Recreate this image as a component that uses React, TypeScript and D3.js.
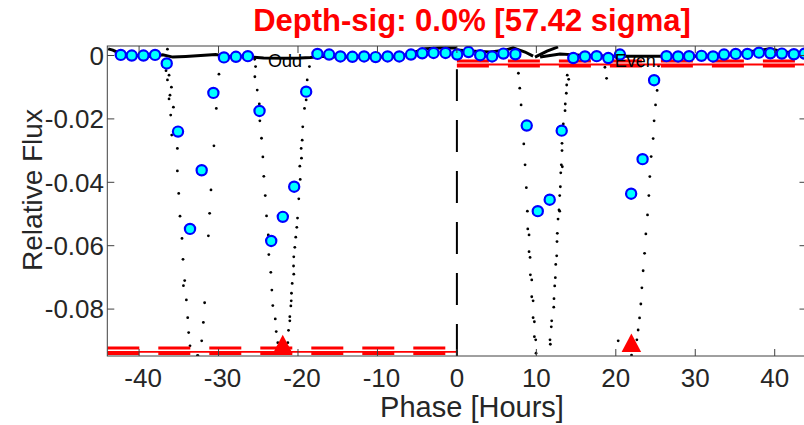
import React from "react";
import * as d3 from "d3";

// ---- Data (hours, relative flux) ----
const xTicks = [-40, -30, -20, -10, 0, 10, 20, 30, 40];
const yTicks = [0, -0.02, -0.04, -0.06, -0.08];
const yTickLabels = ["0", "-0.02", "-0.04", "-0.06", "-0.08"];

// binned points (blue circles)
const binH = [
  -42.3, -40.92, -39.45, -37.99, -36.52, -35.1, -33.59, -32.12, -30.65, -29.32,
  -27.81, -26.31, -24.84, -23.37, -21.91, -20.48, -18.97, -17.55, -16.08, -14.66,
  -13.15, -11.68, -10.23, -8.72, -7.25, -5.78, -4.36, -2.94, -1.43, 0.04,
  1.46, 2.93, 4.43, 5.85, 7.36, 8.79, 10.18, 11.68, 13.19, 14.65,
  16.12, 17.59, 19.05, 20.52, 21.93, 23.37, 24.82, 26.38, 27.84, 29.22,
  30.78, 32.24, 33.62, 35.09, 36.56, 38.02, 39.45, 40.9, 42.41, 43.76,
];
const binF = [
  0.0002, 0.0, 0.0, 0.0002, -0.0025, -0.024, -0.0547, -0.0362, -0.0118, -0.0006,
  -0.0004, -0.0002, -0.0175, -0.0585, -0.0509, -0.0414, -0.0114, 0.0005, 0.0003, -0.0003,
  -0.0004, -0.0003, -0.0005, -0.0003, -0.0003, 0.0003, 0.0007, 0.0008, 0.0008, 0.0003,
  0.0011, 0.0001, -0.0003, 0.0006, 0.0004, -0.0221, -0.0491, -0.0455, -0.0237, -0.0008,
  -0.0003, -0.0002, -0.0008, 0.0003, -0.0436, -0.0327, -0.0078, -0.0002, -0.0003, -0.0002,
  -0.0001, -0.0003, 0.0003, 0.0005, 0.0005, 0.0009, 0.0007, 0.0006, 0.0004, 0.0006,
];

// raw in-transit samples (black dots)
const dotsH = [
  // odd, first dip
  -36.43, -36.93, -36.61, -36.23, -36.43, -35.93, -36.11, -36.23, -35.68, -36.02, -35.89, -35.18,
  -35.18, -35.01, -34.85, -34.6, -34.47, -34.26, -34.42, -34.05, -33.88, -33.76, -33.59, -32.66,
  -29.95, -30.28, -30.58, -30.95, -31.12, -31.28, -31.75, -31.91, -32.12, -32.59,
  // odd, second dip
  -25.46, -25.34, -25.43, -25.13, -24.87, -24.8, -24.59, -24.42, -24.3, -24.12, -23.96, -23.74,
  -23.67, -23.42, -23.29, -23.17, -22.86, -22.74, -22.54,
  -18.56, -18.84, -18.97, -19.18, -19.4, -19.47, -19.6, -19.56, -19.77, -19.72, -19.9, -20.06,
  -20.15, -20.28, -20.4, -20.53, -20.56, -20.53, -20.73, -20.82, -20.85, -20.9, -21.03, -21.03,
  -21.19, -21.28, -21.48,
  // even, first dip
  7.74, 7.91, 8.08, 8.42, 8.58, 8.74, 8.87, 8.92, 9.08, 9.08, 9.21, 9.25, 9.42, 9.42, 9.59, 9.59,
  9.75, 9.75, 9.92, 9.96,
  13.89, 14.07, 13.82, 13.77, 13.64, 13.61, 13.39, 13.23, 13.23, 13.14, 13.27, 13.07, 13.02, 12.94,
  12.85, 12.94, 12.73, 12.64, 12.6, 12.56, 12.44, 12.39, 12.31, 12.22, 12.19, 11.93, 11.88, 11.72,
  11.76,
  // even, second dip
  25.38, 25.2, 25.0, 24.82, 24.7, 24.45, 24.28, 24.16, 23.99, 23.78, 23.62, 23.44, 23.28, 23.15,
  22.99, 22.81, 22.65, 21.98, 20.3, 18.63, 18.84,
];
const dotsF = [
  0.002, -0.0035, -0.0048, -0.0062, -0.0077, -0.01, -0.0125, -0.0137, -0.0163, -0.0188, -0.0251, -0.0293,
  -0.0364, -0.0435, -0.0507, -0.0577, -0.0643, -0.071, -0.0726, -0.0771, -0.0827, -0.0874, -0.0916, -0.0947,
  -0.0059, -0.0167, -0.0285, -0.0424, -0.0498, -0.0569, -0.078, -0.0842, -0.09, -0.0947,
  -0.0012, -0.0035, -0.0067, -0.0109, -0.0153, -0.0206, -0.0261, -0.032, -0.0381, -0.0442, -0.0506, -0.0566,
  -0.0628, -0.0684, -0.074, -0.0789, -0.0831, -0.0871, -0.0906,
  -0.0035, -0.0077, -0.014, -0.0167, -0.0225, -0.0267, -0.0293, -0.0324, -0.0349, -0.0391, -0.0452, -0.0513,
  -0.0542, -0.0573, -0.0605, -0.0635, -0.0664, -0.069, -0.0719, -0.075, -0.0774, -0.079, -0.0824, -0.0837,
  -0.0867, -0.0906, -0.092,
  -0.0056, -0.0103, -0.0156, -0.0279, -0.0345, -0.0417, -0.0491, -0.0547, -0.0566, -0.0619, -0.0637, -0.0692,
  -0.0708, -0.0761, -0.0774, -0.0827, -0.084, -0.0887, -0.0897, -0.0939,
  -0.0062, -0.0075, -0.0093, -0.0119, -0.0153, -0.0174, -0.0216, -0.0277, -0.03, -0.0345, -0.0351, -0.037,
  -0.0414, -0.0442, -0.0487, -0.0491, -0.0516, -0.0561, -0.0587, -0.0632, -0.0659, -0.0701, -0.0727, -0.0767,
  -0.0794, -0.0837, -0.0856, -0.0897, -0.0911,
  -0.0033, -0.011, -0.0156, -0.0206, -0.0262, -0.0319, -0.0382, -0.0442, -0.0503, -0.0563, -0.0624, -0.0679,
  -0.0733, -0.0784, -0.0828, -0.0866, -0.0897, -0.0945, -0.09, -0.0037, -0.0072,
];

// dense out-of-transit samples (drawn as a thick trace), with segment ids
const bandH = [
  -43.89, -43.3, -42.55, -41.04, -39.53, -38.03, -37.02, -35.76, -34.13, -32.25, -30.36, -29.11,
  -27.23, -25.72, -24.33, -21.57, -19.69, -18.43, -17.18, -14.66, -12.15, -9.64, -7.12, -5.24,
  -3.98, -2.1, 0,
  0, 1.67, 4.18, 6.07, 7.07, 8.58, 9.59,
  9.83, 11.34, 12.73,
  10.47, 12.98, 14.86, 16.74, 19.25, 21.77, 24.28, 26.79, 30.56, 34.33, 37.47, 39.36, 41.24, 43.63, 44,
];
const bandF = [
  0.0021, 0.0017, 0.0008, 0.0002, -0.0002, -0.0002, 0.0002, -0.0005, -0.0003, 0.0, 0.0003, -0.0002,
  -0.0003, -0.0005, -0.0008, -0.0009, -0.0008, -0.0006, -0.0002, -0.0005, -0.0005, -0.0005, -0.0003, 0.0011,
  0.0021, 0.0024, 0.0024,
  0.0017, 0.0014, 0.0011, 0.0017, 0.0024, 0.0011, -0.0002,
  -0.0005, 0.0014, 0.0027,
  -0.0005, 0.0005, 0.0002, 0.0, -0.0002, -0.0002, -0.0002, -0.0002, -0.0002, 0.0002, 0.0014, 0.0021, 0.0011, 0.0008, 0.0008,
];
const bandSeg = [
  0, 0, 0, 0, 0, 0, 0, 0, 0, 0, 0, 0, 0, 0, 0, 0, 0, 0, 0, 0, 0, 0, 0, 0, 0, 0, 0,
  1, 1, 1, 1, 1, 1, 1,
  2, 2, 2,
  3, 3, 3, 3, 3, 3, 3, 3, 3, 3, 3, 3, 3, 3, 3,
];

// depth levels: [upper, mean, lower] for odd and even transits
const oddDepth = [-0.09227, -0.09353, -0.09401];
const evenDepth = [-0.00174, -0.00284, -0.00331];
const triH = [-21.92, 21.96];
const triF = [-0.092, -0.0916];
const markLabels = ["Odd", "Even"];
const markLabelH = [-21.63, 22.44];
const titleText = "Depth-sig: 0.0% [57.42 sigma]";

const W = 804;
const H = 425;
const M = { left: 107.3, right: 806.5, top: 46, bottom: 356 };
const FONT = "'Liberation Sans', Arial, Helvetica, sans-serif";

export default function App() {
  const x = d3.scaleLinear().domain([-44, 44]).range([M.left, M.right]);
  const y = d3.scaleLinear().domain([-0.0948, 0.003]).range([M.bottom, M.top]);

  const segs = d3.groups(
    bandH.map((h, i) => ({ h, f: bandF[i], s: bandSeg[i] })),
    (d) => d.s
  );
  const line = d3
    .line<{ h: number; f: number }>()
    .x((d) => x(d.h))
    .y((d) => y(d.f));

  const tri = d3.symbol().type(d3.symbolTriangle).size(150)();

  const axisColor = "#404040";
  const textColor = "#262626";

  return (
    <svg
      width={W}
      height={H}
      style={{ position: "absolute", left: 0, top: 0, background: "#fff" }}
      fontFamily={FONT}
    >
      <defs>
        <clipPath id="plotclip">
          <rect x={M.left} y={M.top} width={M.right - M.left} height={M.bottom - M.top} />
        </clipPath>
      </defs>
      <rect x={0} y={0} width={W} height={H} fill="#fff" />

      <g clipPath="url(#plotclip)">
        {/* dense trace */}
        {segs.map(([k, pts]) => (
          <path key={k} d={line(pts) || ""} fill="none" stroke="#000" strokeWidth={3} />
        ))}
        {/* raw dots */}
        {dotsH.map((h, i) => (
          <circle key={i} cx={x(h)} cy={y(dotsF[i])} r={1.4} fill="#000" />
        ))}

        {/* odd depth lines */}
        <line x1={x(-44)} x2={x(0)} y1={y(oddDepth[0])} y2={y(oddDepth[0])} stroke="#ff0000" strokeWidth={3} strokeDasharray="32 19" />
        <line x1={x(-44)} x2={x(0)} y1={y(oddDepth[2])} y2={y(oddDepth[2])} stroke="#ff0000" strokeWidth={3} strokeDasharray="32 19" />
        <line x1={x(-44)} x2={x(0)} y1={y(oddDepth[1])} y2={y(oddDepth[1])} stroke="#ff0000" strokeWidth={1.8} />
        {/* even depth lines */}
        <line x1={x(0)} x2={x(44)} y1={y(evenDepth[0])} y2={y(evenDepth[0])} stroke="#ff0000" strokeWidth={3} strokeDasharray="32 19" />
        <line x1={x(0)} x2={x(44)} y1={y(evenDepth[2])} y2={y(evenDepth[2])} stroke="#ff0000" strokeWidth={3} strokeDasharray="32 19" />
        <line x1={x(0)} x2={x(44)} y1={y(evenDepth[1])} y2={y(evenDepth[1])} stroke="#ff0000" strokeWidth={1.8} />

        {/* divider between odd and even */}
        <line x1={x(0)} x2={x(0)} y1={M.bottom} y2={y(-0.0043)} stroke="#000" strokeWidth={2} strokeDasharray="32 19" />

        {/* binned circles */}
        {binH.map((h, i) => (
          <circle key={i} cx={x(h)} cy={y(binF[i])} r={5.1} fill="#00ffff" stroke="#0000ff" strokeWidth={2.2} />
        ))}

        {/* transit markers */}
        {triH.map((h, i) => (
          <path key={i} d={tri} transform={`translate(${x(h)},${y(triF[i])}) scale(1.05,1.15)`} fill="#ff0000" />
        ))}

        {markLabels.map((t, i) => (
          <text key={t} x={x(markLabelH[i])} y={y(0) + 11} fontSize={18} textAnchor="middle" fill="#000">
            {t}
          </text>
        ))}
      </g>

      {/* axes box */}
      <rect x={M.left} y={M.top} width={M.right - M.left} height={M.bottom - M.top} fill="none" stroke={axisColor} strokeWidth={1} />
      {xTicks.map((t) => (
        <g key={t}>
          <line x1={x(t)} x2={x(t)} y1={M.bottom} y2={M.bottom - 7} stroke={axisColor} />
          <line x1={x(t)} x2={x(t)} y1={M.top} y2={M.top + 7} stroke={axisColor} />
          <text x={x(t) + (t < 0 ? 4 : 0)} y={387} fontSize={26} textAnchor="middle" fill={textColor}>
            {String(t)}
          </text>
        </g>
      ))}
      {yTicks.map((t, i) => (
        <g key={t}>
          <line x1={M.left} x2={M.left + 7} y1={y(t)} y2={y(t)} stroke={axisColor} />
          <line x1={M.right} x2={M.right - 7} y1={y(t)} y2={y(t)} stroke={axisColor} />
          <text x={104} y={y(t)} dy="0.36em" fontSize={26} textAnchor="end" fill={textColor}>
            {yTickLabels[i]}
          </text>
        </g>
      ))}

      <text x={472} y={417} fontSize={29} textAnchor="middle" fill={textColor}>
        Phase [Hours]
      </text>
      <text transform="translate(42,190) rotate(-90)" fontSize={28} textAnchor="middle" fill={textColor}>
        Relative Flux
      </text>
      <text x={472} y={31} fontSize={31} fontWeight="bold" textAnchor="middle" fill="#ff0000">
        {titleText}
      </text>
    </svg>
  );
}
